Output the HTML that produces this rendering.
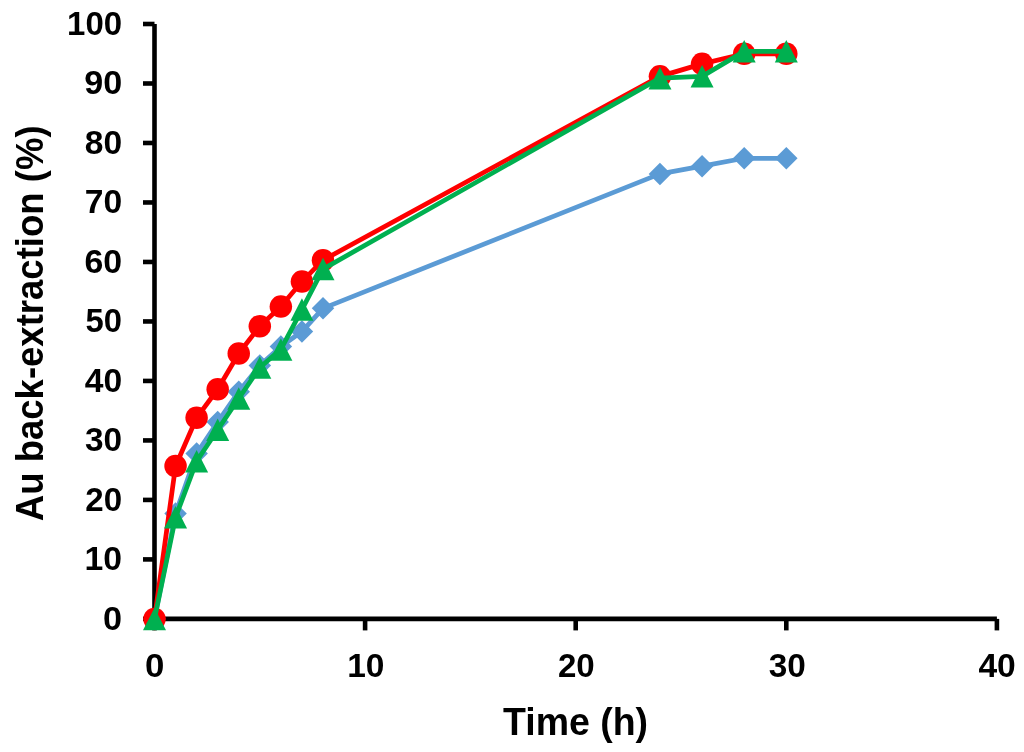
<!DOCTYPE html>
<html><head><meta charset="utf-8"><style>
html,body{margin:0;padding:0;background:#fff;}
body{width:1024px;height:752px;overflow:hidden;font-family:"Liberation Sans",sans-serif;}
svg{display:block;}
svg{will-change:transform;}
</style></head><body>
<svg width="1024" height="752" viewBox="0 0 1024 752">
<rect width="1024" height="752" fill="#fff"/>
<g stroke="#000" stroke-width="4.6"><line x1="154.50" y1="24.00" x2="154.50" y2="618.90"/><line x1="154.50" y1="618.90" x2="996.90" y2="618.90"/><line x1="143.00" y1="618.90" x2="154.50" y2="618.90"/><line x1="143.00" y1="559.41" x2="154.50" y2="559.41"/><line x1="143.00" y1="499.92" x2="154.50" y2="499.92"/><line x1="143.00" y1="440.43" x2="154.50" y2="440.43"/><line x1="143.00" y1="380.94" x2="154.50" y2="380.94"/><line x1="143.00" y1="321.45" x2="154.50" y2="321.45"/><line x1="143.00" y1="261.96" x2="154.50" y2="261.96"/><line x1="143.00" y1="202.47" x2="154.50" y2="202.47"/><line x1="143.00" y1="142.98" x2="154.50" y2="142.98"/><line x1="143.00" y1="83.49" x2="154.50" y2="83.49"/><line x1="143.00" y1="24.00" x2="154.50" y2="24.00"/><line x1="154.50" y1="618.90" x2="154.50" y2="630.40"/><line x1="365.10" y1="618.90" x2="365.10" y2="630.40"/><line x1="575.70" y1="618.90" x2="575.70" y2="630.40"/><line x1="786.30" y1="618.90" x2="786.30" y2="630.40"/><line x1="996.90" y1="618.90" x2="996.90" y2="630.40"/></g>
<polyline points="154.50,618.90 175.56,513.60 196.62,453.52 217.68,421.99 238.74,391.65 259.80,365.47 280.86,346.44 301.92,331.56 322.98,308.36 659.94,173.91 702.06,166.18 744.18,158.27 786.30,158.27" fill="none" stroke="#5B9BD5" stroke-width="4.75" stroke-linejoin="round" stroke-linecap="round"/><g fill="#5B9BD5"><path d="M154.50 607.65L165.75 618.90L154.50 630.15L143.25 618.90Z"/><path d="M175.56 502.35L186.81 513.60L175.56 524.85L164.31 513.60Z"/><path d="M196.62 442.27L207.87 453.52L196.62 464.77L185.37 453.52Z"/><path d="M217.68 410.74L228.93 421.99L217.68 433.24L206.43 421.99Z"/><path d="M238.74 380.40L249.99 391.65L238.74 402.90L227.49 391.65Z"/><path d="M259.80 354.22L271.05 365.47L259.80 376.72L248.55 365.47Z"/><path d="M280.86 335.19L292.11 346.44L280.86 357.69L269.61 346.44Z"/><path d="M301.92 320.31L313.17 331.56L301.92 342.81L290.67 331.56Z"/><path d="M322.98 297.11L334.23 308.36L322.98 319.61L311.73 308.36Z"/><path d="M659.94 162.66L671.19 173.91L659.94 185.16L648.69 173.91Z"/><path d="M702.06 154.93L713.31 166.18L702.06 177.43L690.81 166.18Z"/><path d="M744.18 147.02L755.43 158.27L744.18 169.52L732.93 158.27Z"/><path d="M786.30 147.02L797.55 158.27L786.30 169.52L775.05 158.27Z"/></g>
<polyline points="154.50,618.90 175.56,466.01 196.62,417.82 217.68,389.27 238.74,353.57 259.80,326.21 280.86,306.58 301.92,281.59 322.98,260.18 659.94,76.35 702.06,63.86 744.18,53.75 786.30,53.75" fill="none" stroke="#FF0000" stroke-width="4.75" stroke-linejoin="round" stroke-linecap="round"/><g fill="#FF0000"><circle cx="154.50" cy="618.90" r="11.25"/><circle cx="175.56" cy="466.01" r="11.25"/><circle cx="196.62" cy="417.82" r="11.25"/><circle cx="217.68" cy="389.27" r="11.25"/><circle cx="238.74" cy="353.57" r="11.25"/><circle cx="259.80" cy="326.21" r="11.25"/><circle cx="280.86" cy="306.58" r="11.25"/><circle cx="301.92" cy="281.59" r="11.25"/><circle cx="322.98" cy="260.18" r="11.25"/><circle cx="659.94" cy="76.35" r="11.25"/><circle cx="702.06" cy="63.86" r="11.25"/><circle cx="744.18" cy="53.75" r="11.25"/><circle cx="786.30" cy="53.75" r="11.25"/></g>
<polyline points="154.50,618.90 175.56,517.17 196.62,461.25 217.68,429.72 238.74,398.49 259.80,367.55 280.86,349.41 301.92,309.55 322.98,269.10 659.94,78.14 702.06,76.35 744.18,51.37 786.30,51.37" fill="none" stroke="#00B050" stroke-width="4.75" stroke-linejoin="round" stroke-linecap="round"/><g fill="#00B050"><path d="M154.50 607.65L166.00 630.15L143.00 630.15Z"/><path d="M175.56 505.92L187.06 528.42L164.06 528.42Z"/><path d="M196.62 450.00L208.12 472.50L185.12 472.50Z"/><path d="M217.68 418.47L229.18 440.97L206.18 440.97Z"/><path d="M238.74 387.24L250.24 409.74L227.24 409.74Z"/><path d="M259.80 356.30L271.30 378.80L248.30 378.80Z"/><path d="M280.86 338.16L292.36 360.66L269.36 360.66Z"/><path d="M301.92 298.30L313.42 320.80L290.42 320.80Z"/><path d="M322.98 257.85L334.48 280.35L311.48 280.35Z"/><path d="M659.94 66.89L671.44 89.39L648.44 89.39Z"/><path d="M702.06 65.10L713.56 87.60L690.56 87.60Z"/><path d="M744.18 40.12L755.68 62.62L732.68 62.62Z"/><path d="M786.30 40.12L797.80 62.62L774.80 62.62Z"/></g>
<g font-family="Liberation Sans, sans-serif" font-weight="bold" font-size="33.679" fill="#000">
<text transform="matrix(1.0153 0 0 1 103.03 629.86)">0</text><text transform="matrix(1.0028 0 0 1 84.56 570.37)">10</text><text transform="matrix(0.9824 0 0 1 85.30 510.88)">20</text><text transform="matrix(0.9900 0 0 1 85.02 451.39)">30</text><text transform="matrix(0.9979 0 0 1 84.74 391.90)">40</text><text transform="matrix(0.9736 0 0 1 85.62 332.41)">50</text><text transform="matrix(1.0057 0 0 1 84.46 272.92)">60</text><text transform="matrix(0.9978 0 0 1 84.74 213.43)">70</text><text transform="matrix(0.9967 0 0 1 84.78 153.94)">80</text><text transform="matrix(1.0111 0 0 1 84.26 94.45)">90</text><text transform="matrix(0.9781 0 0 1 67.11 34.96)">100</text><text transform="matrix(1.0340 0 0 1 144.91 676.66)">0</text><text transform="matrix(0.9952 0 0 1 347.14 676.66)">10</text><text transform="matrix(0.9824 0 0 1 557.90 676.66)">20</text><text transform="matrix(0.9900 0 0 1 768.72 676.66)">30</text><text transform="matrix(0.9979 0 0 1 978.44 676.66)">40</text>
<text font-size="38.696" transform="matrix(0.9686 0 0 1 503.03 735.3)">Time (h)</text>
<text font-size="38.841" transform="matrix(0 -0.9408 1 0 42.6 521.17)">Au back-extraction (%)</text>
</g>
</svg>
</body></html>
